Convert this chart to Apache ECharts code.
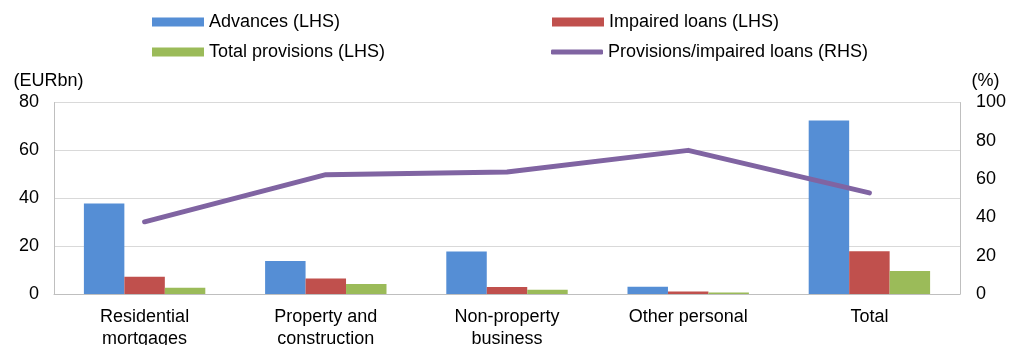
<!DOCTYPE html>
<html>
<head>
<meta charset="utf-8">
<script src="https://cdn.jsdelivr.net/npm/echarts@6/dist/echarts.min.js"></script>
<style>
  html, body { margin: 0; padding: 0; background: #fff; }
  #chart { width: 1022px; height: 345px; }
</style>
</head>
<body>
<div id="chart"></div>
<script>
// 数据
const categories = ['Residential\nmortgages', 'Property and\nconstruction', 'Non-property\nbusiness', 'Other personal', 'Total'];
const advances = [37.8, 13.8, 17.8, 3.0, 72.5];
const impaired = [7.2, 6.5, 2.9, 1.0, 17.9];
const provisions = [2.6, 4.2, 1.8, 0.6, 9.6];
const ratio = [37.7, 62.3, 63.7, 75.0, 52.8];   // 右轴 (%)

const leftTicks = { min: 0, max: 80, interval: 20 };
const rightTicks = { min: 0, max: 100, interval: 20 };

const FONT = 'Liberation Sans, Arial, sans-serif';
const txt = { color: '#000', fontSize: 18, fontFamily: FONT };

const myChart = echarts.init(document.getElementById('chart'));

// 图例 - 两行两列，每个单独定位
function legendAt(name, left, top, isLine) {
  return {
    data: [name],
    left: left,
    top: top,
    padding: 0,
    icon: isLine ? 'roundRect' : 'rect',
    itemWidth: 52,
    itemHeight: isLine ? 5 : 9,
    itemGap: 5,
    textStyle: txt,
    selectedMode: false
  };
}

const option = {
  animation: false,
  textStyle: { fontFamily: FONT },
  legend: [
    legendAt('Advances (LHS)', 152, 13),
    legendAt('Impaired loans (LHS)', 552, 13),
    legendAt('Total provisions (LHS)', 152, 43),
    legendAt('Provisions/impaired loans (RHS)', 551, 43, true)
  ],
  grid: {
    left: 54,
    right: 62,
    top: 102.5,
    bottom: 51,
    containLabel: false,
    outerBoundsMode: 'none'
  },
  xAxis: {
    type: 'category',
    data: categories,
    axisLine: { show: true, lineStyle: { color: '#BFBFBF', width: 1 } },
    axisTick: { show: false },
    axisLabel: Object.assign({ margin: 12, lineHeight: 22, interval: 0 }, txt)
  },
  yAxis: [
    {
      type: 'value',
      name: '(EURbn)',
      nameLocation: 'end',
      nameGap: 12,
      nameTextStyle: Object.assign({ padding: [0, 11, 0, 0] }, txt),
      min: leftTicks.min,
      max: leftTicks.max,
      interval: leftTicks.interval,
      axisLine: { show: true, lineStyle: { color: '#BFBFBF', width: 1 } },
      axisTick: { show: false },
      axisLabel: Object.assign({ margin: 15 }, txt),
      splitLine: { show: true, lineStyle: { color: '#D9D9D9', width: 1 } }
    },
    {
      type: 'value',
      name: '(%)',
      nameLocation: 'end',
      nameGap: 12,
      nameTextStyle: Object.assign({ padding: [0, 0, 0, 51] }, txt),
      min: rightTicks.min,
      max: rightTicks.max,
      interval: rightTicks.interval,
      position: 'right',
      axisLine: { show: true, lineStyle: { color: '#BFBFBF', width: 1 } },
      axisTick: { show: false },
      axisLabel: Object.assign({ margin: 16 }, txt),
      splitLine: { show: false }
    }
  ],
  series: [
    {
      name: 'Advances (LHS)',
      type: 'bar',
      data: advances,
      barGap: '0%',
      barCategoryGap: '33%',
      itemStyle: { color: '#558ED5' }
    },
    {
      name: 'Impaired loans (LHS)',
      type: 'bar',
      data: impaired,
      itemStyle: { color: '#C0504D' }
    },
    {
      name: 'Total provisions (LHS)',
      type: 'bar',
      data: provisions,
      itemStyle: { color: '#9BBB59' }
    },
    {
      name: 'Provisions/impaired loans (RHS)',
      type: 'line',
      yAxisIndex: 1,
      data: ratio,
      symbol: 'none',
      itemStyle: { color: '#8064A2' },
      lineStyle: { color: '#8064A2', width: 5, cap: 'round', join: 'round' },
      z: 5
    }
  ]
};

// 使用刚指定的配置项和数据显示图表。
myChart.setOption(option);
</script>
</body>
</html>
